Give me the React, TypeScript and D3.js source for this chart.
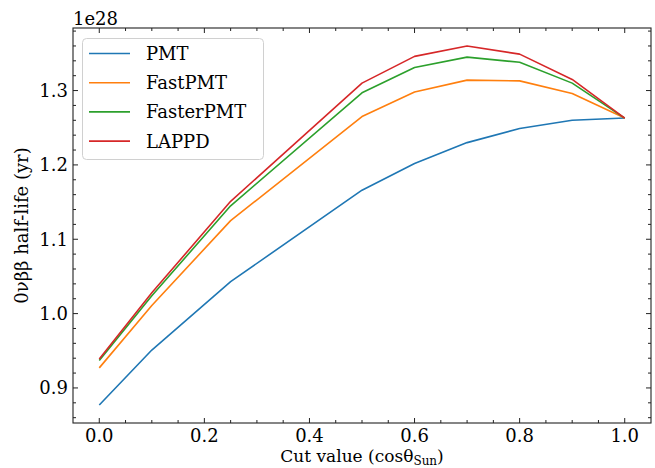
import React from "react";
import * as d3 from "d3";

const cutValues = [0, 0.1, 0.25, 0.5, 0.6, 0.7, 0.8, 0.9, 1.0];
const pmt = [0.877, 0.951, 1.043, 1.166, 1.202, 1.23, 1.249, 1.26, 1.263];
const fastPmt = [0.927, 1.011, 1.125, 1.265, 1.298, 1.314, 1.313, 1.296, 1.263];
const fasterPmt = [0.937, 1.024, 1.145, 1.297, 1.331, 1.345, 1.338, 1.31, 1.263];
const lappd = [0.939, 1.028, 1.151, 1.31, 1.346, 1.36, 1.349, 1.315, 1.263];
const seriesNames = ["PMT", "FastPMT", "FasterPMT", "LAPPD"];
const seriesColors = ["#1f77b4", "#ff7f0e", "#2ca02c", "#d62728"];
const xTicks = [0, 0.2, 0.4, 0.6, 0.8, 1.0];
const yTicks = [0.9, 1.0, 1.1, 1.2, 1.3];

const W = 655;
const H = 468;
const L = 73;
const R = 651;
const T = 28;
const B = 423;
const FONT = "'DejaVu Serif', serif";

export default function App() {
  const series = [pmt, fastPmt, fasterPmt, lappd];
  const x = d3.scaleLinear().domain([-0.05, 1.05]).range([L, R]);
  const yMin = 0.877, yMax = 1.36;
  const pad = (yMax - yMin) * 0.05;
  const y = d3.scaleLinear().domain([yMin - pad, yMax + pad]).range([B, T]);
  const line = d3
    .line<[number, number]>()
    .x((d) => x(d[0]))
    .y((d) => y(d[1]));

  const xMinor = d3.range(0, 21).map((i) => i * 0.05).filter((v) => Math.round(v * 100) % 20 !== 0);
  const yMinor = d3.range(0, 30).map((i) => 0.84 + i * 0.02).filter((v) => v > y.domain()[0] && v < y.domain()[1] && Math.round(v * 100) % 10 !== 0);

  const maj = 5;
  const minr = 3;
  const tickColor = "#222";

  return (
    <svg
      width={W}
      height={H}
      style={{ position: "absolute", left: 0, top: 0, background: "#fff" }}
      fontFamily={FONT}
    >
      <rect x={0} y={0} width={W} height={H} fill="#fff" />
      <g>
        {series.map((s, i) => (
          <path
            key={i}
            d={line(cutValues.map((c, j) => [c, s[j]] as [number, number])) || ""}
            fill="none"
            stroke={seriesColors[i]}
            strokeWidth={1.6}
            strokeLinejoin="round"
          />
        ))}
      </g>
      <g stroke={tickColor} strokeWidth={1}>
        {xTicks.map((t) => (
          <g key={"xt" + t}>
            <line x1={x(t)} x2={x(t)} y1={B} y2={B - maj} />
            <line x1={x(t)} x2={x(t)} y1={T} y2={T + maj} />
          </g>
        ))}
        {xMinor.map((t) => (
          <g key={"xm" + t}>
            <line x1={x(t)} x2={x(t)} y1={B} y2={B - minr} />
            <line x1={x(t)} x2={x(t)} y1={T} y2={T + minr} />
          </g>
        ))}
        {yTicks.map((t) => (
          <g key={"yt" + t}>
            <line x1={L} x2={L + maj} y1={y(t)} y2={y(t)} />
            <line x1={R} x2={R - maj} y1={y(t)} y2={y(t)} />
          </g>
        ))}
        {yMinor.map((t) => (
          <g key={"ym" + t}>
            <line x1={L} x2={L + minr} y1={y(t)} y2={y(t)} />
            <line x1={R} x2={R - minr} y1={y(t)} y2={y(t)} />
          </g>
        ))}
      </g>
      <rect x={L} y={T} width={R - L} height={B - T} fill="none" stroke={tickColor} strokeWidth={1.1} />
      <g fontSize={18} fill="#000">
        {xTicks.map((t) => (
          <text key={"xl" + t} x={x(t)} y={B + 19} textAnchor="middle">
            {d3.format(".1f")(t)}
          </text>
        ))}
        {yTicks.map((t) => (
          <text key={"yl" + t} x={L - 5} y={y(t)} textAnchor="end" dominantBaseline="central">
            {d3.format(".1f")(t)}
          </text>
        ))}
        <text x={L} y={25} textAnchor="start">1e28</text>
      </g>
      <text x={(L + R) / 2} y={462} textAnchor="middle" fontSize={17}>
        Cut value (cosθ
        <tspan fontSize={12} dy={3}>Sun</tspan>
        <tspan dy={-3}>)</tspan>
      </text>
      <text
        transform={`translate(28,${(T + B) / 2}) rotate(-90)`}
        textAnchor="middle"
        fontSize={18}
      >
        0νββ half-life (yr)
      </text>
      <g>
        <rect x={82.5} y={38.5} width={181} height={121} rx={4} fill="#fff" fillOpacity={0.8} stroke="#d0d0d0" strokeWidth={1} />
        {seriesNames.map((n, i) => {
          const cy = 53.5 + i * 29.2;
          return (
            <g key={n}>
              <line x1={89} x2={130} y1={cy} y2={cy} stroke={seriesColors[i]} strokeWidth={1.6} />
              <text x={146} y={cy} dominantBaseline="central" fontSize={18}>
                {n}
              </text>
            </g>
          );
        })}
      </g>
    </svg>
  );
}
